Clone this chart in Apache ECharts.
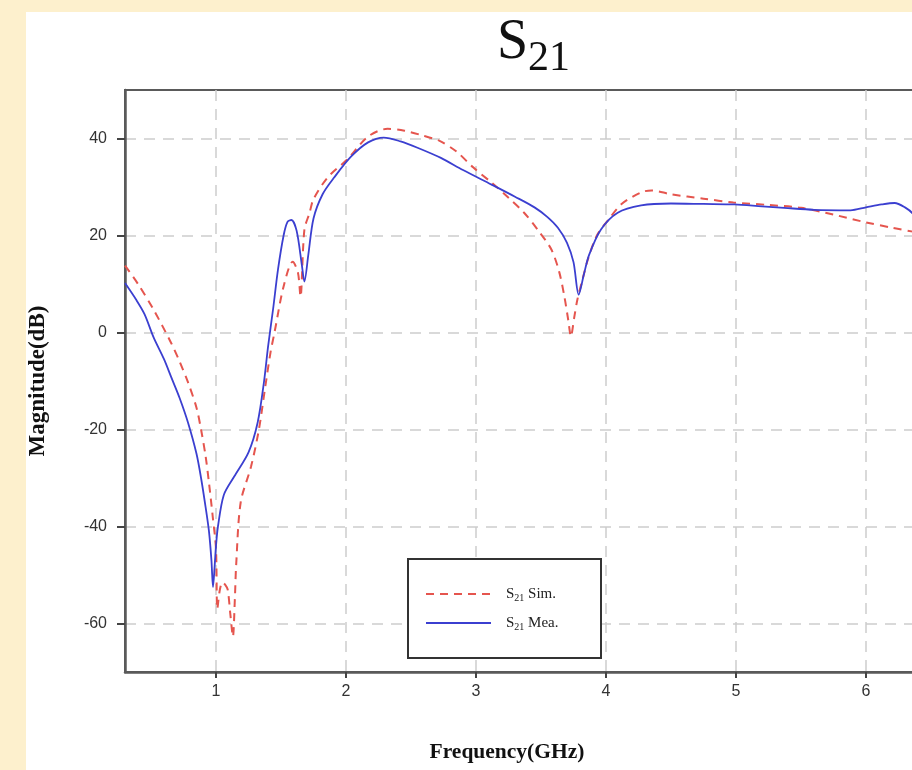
<!DOCTYPE html>
<html>
<head>
<meta charset="utf-8">
<script src="https://cdn.jsdelivr.net/npm/echarts@6/dist/echarts.min.js"></script>
<style>
  html, body { margin: 0; padding: 0; width: 912px; height: 770px; overflow: hidden; background: #fdf0cd; }
  #panel { position: absolute; left: 26px; top: 12px; width: 886px; height: 758px; background: #ffffff; }
  #chart { position: absolute; left: 0; top: 0; width: 940px; height: 770px; }
</style>
</head>
<body>
<div id="panel"></div>
<div id="chart"></div>
<script>
// Measured S21 (blue, solid)
const freqMea = [0.30,0.385,0.45,0.52,0.60,0.654,0.72,0.785,0.85,0.885,0.92,0.946,0.965,0.977,0.99,1.0,1.015,1.06,1.14,1.25,1.32,1.37,1.40,1.44,1.477,1.52,1.55,1.58,1.62,1.66,1.68,1.71,1.75,1.82,1.91,2.04,2.17,2.29,2.42,2.55,2.73,2.90,3.12,3.30,3.45,3.55,3.63,3.70,3.75,3.79,3.83,3.87,3.96,4.09,4.27,4.5,4.75,4.99,5.2,5.37,5.6,5.88,6.0,6.12,6.22,6.30,6.36,6.45];
const magMea  = [10.2,6.8,3.8,-1.0,-5.5,-9.1,-13.5,-18.6,-25,-30,-36,-41,-47,-52.5,-48,-44,-40,-33.5,-29.7,-24.7,-18.6,-10,-3,5,13,20,22.8,23.2,21,14,10.5,16,23.5,28.5,32,36.3,39.2,40.2,39.4,38.1,36,33.5,30.5,28,25.8,23.8,21.6,18.5,14.5,7.8,12,16,21.2,24.7,26.2,26.6,26.5,26.4,26,25.7,25.3,25.2,25.8,26.4,26.7,25.8,24.5,21];
// Simulated S21 (red, dashed)
const freqSim = [0.30,0.40,0.52,0.654,0.72,0.785,0.85,0.885,0.92,0.946,0.975,1.0,1.01,1.03,1.05,1.07,1.09,1.11,1.13,1.145,1.155,1.19,1.27,1.33,1.38,1.42,1.45,1.52,1.59,1.63,1.65,1.68,1.72,1.75,1.86,2.01,2.17,2.32,2.45,2.58,2.72,2.85,2.98,3.12,3.25,3.37,3.48,3.58,3.64,3.68,3.71,3.73,3.755,3.78,3.82,3.86,3.93,4.02,4.12,4.27,4.35,4.5,4.75,4.98,5.25,5.5,5.75,6.0,6.2,6.36,6.45];
const magSim  = [13.8,10,4.7,-2.1,-6,-10.3,-15.5,-20,-25.5,-31,-38,-44.7,-57,-53,-51.5,-52,-53,-58,-62.7,-55,-48,-35,-27.6,-20,-11,-4,0,9.5,14.6,12.4,7.4,21.2,24.7,27.5,32,35.7,40.4,42,41.6,40.7,39.5,37.3,34,30.9,27.8,24.7,21,17.1,12.5,7.4,2.5,-0.8,3,6.8,11,15,20,23.3,26.5,28.9,29.3,28.5,27.6,26.8,26.3,25.7,24.3,22.7,21.6,20.8,20.3];

const xTicks = [1, 2, 3, 4, 5, 6];
const yTicks = [-60, -40, -20, 0, 20, 40];
const seriesNames = ['S21 Sim.', 'S21 Mea.'];

const zip = (a, b) => a.map((v, i) => [v, b[i]]);

const chart = echarts.init(document.getElementById('chart'), null, { renderer: 'canvas' });

const gridLine = { show: true, lineStyle: { color: '#cdcdcd', width: 1.5, type: [11, 8] } };

chart.setOption({
  backgroundColor: 'transparent',
  animation: false,
  grid: { left: 125, top: 90, bottom: 98, right: 9, show: true, borderColor: '#5a5a5a', borderWidth: 2, containLabel: false },
  xAxis: {
    type: 'value', min: 0.3, max: 6.5,
    axisLine: { show: true, onZero: false, lineStyle: { color: '#5a5a5a', width: 2.5 } },
    axisTick: { show: true, customValues: xTicks, length: 6, lineStyle: { color: '#444', width: 2 } },
    axisLabel: { customValues: xTicks, color: '#333', fontFamily: 'Liberation Sans', fontSize: 16, margin: 12 },
    splitLine: gridLine
  },
  yAxis: {
    type: 'value', min: -70, max: 50,
    name: 'Magnitude(dB)', nameLocation: 'middle', nameGap: 75,
    nameTextStyle: { fontFamily: 'Liberation Serif', fontWeight: 'bold', fontSize: 23, color: '#111' },
    axisLine: { show: true, onZero: false, lineStyle: { color: '#5a5a5a', width: 2.5 } },
    axisTick: { show: true, customValues: yTicks, length: 8, lineStyle: { color: '#444', width: 2 } },
    axisLabel: { customValues: yTicks, color: '#333', fontFamily: 'Liberation Sans', fontSize: 16, margin: 18 },
    splitLine: gridLine
  },
  legend: {
    left: 420, top: 580, orient: 'vertical', itemWidth: 65, itemHeight: 14, itemGap: 11,
    data: seriesNames,
    itemStyle: { color: 'transparent', borderWidth: 0 },
    formatter: function (n) {
      const parts = n.split(' ');
      return '{s|S}{sub|21}{t| ' + parts[1] + '}';
    },
    textStyle: {
      color: '#222',
      rich: {
        s: { fontFamily: 'Liberation Serif', fontSize: 15, lineHeight: 18, color: '#222', padding: [0, 0, 0, 10] },
        sub: { fontFamily: 'Liberation Serif', fontSize: 10, lineHeight: 18, verticalAlign: 'bottom', padding: [8, 0, 0, 0], color: '#222' },
        t: { fontFamily: 'Liberation Serif', fontSize: 15, lineHeight: 18, color: '#222' }
      }
    }
  },
  graphic: [
    { type: 'rect', shape: { x: 408, y: 559, width: 193, height: 99 }, style: { fill: '#fff', stroke: '#333', lineWidth: 2 }, z: 3 },
    { type: 'text', x: 497, y: 71, style: { text: 'S', fontFamily: 'Liberation Serif', fontSize: 56, fill: '#111', textAlign: 'left', textVerticalAlign: 'bottom' }, z: 10 },
    { type: 'text', x: 528, y: 80, style: { text: '21', fontFamily: 'Liberation Serif', fontSize: 42, fill: '#111', textAlign: 'left', textVerticalAlign: 'bottom' }, z: 10 },
    { type: 'text', x: 507, y: 752, style: { text: 'Frequency(GHz)', fontFamily: 'Liberation Serif', fontWeight: 'bold', fontSize: 21.5, fill: '#111', textAlign: 'center', textVerticalAlign: 'middle' }, z: 10 }
  ],
  series: [
    {
      name: seriesNames[0], type: 'line', showSymbol: false, symbol: 'none', smooth: 0.3,
      data: zip(freqSim, magSim),
      lineStyle: { color: '#e5554e', width: 2, type: [8, 6] },
      itemStyle: { color: '#e5554e' }, z: 2
    },
    {
      name: seriesNames[1], type: 'line', showSymbol: false, symbol: 'none', smooth: 0.3,
      data: zip(freqMea, magMea),
      lineStyle: { color: '#3b3fd0', width: 1.8 },
      itemStyle: { color: '#3b3fd0' }, z: 2
    }
  ]
});
</script>
</body>
</html>
